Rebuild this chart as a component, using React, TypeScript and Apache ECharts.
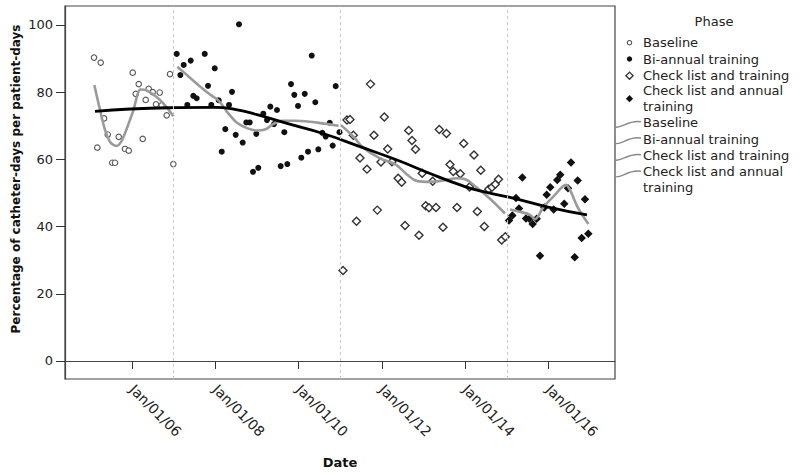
import React, { useEffect, useRef } from "react";
import * as echarts from "echarts";

// ---- tick labels / categories ----
const yearTicks = [2006, 2008, 2010, 2012, 2014, 2016];
const valueTicks = [0, 20, 40, 60, 80, 100];
const phaseBoundaries = [2007, 2011, 2015];
const phaseNames = ["Baseline", "Bi-annual training", "Check list and training", "Check list and annual training"];
const legendTitle = "Phase";
const xTitle = "Date";
const yTitle = "Percentage of catheter-days per patient-days";

// ---- observations (decimal year, percentage) ----
const baselineDates = [2005.088, 2005.167, 2005.248, 2005.328, 2005.417, 2005.527, 2005.592, 2005.681, 2005.832, 2005.921, 2006.017, 2006.089, 2006.161, 2006.257, 2006.329, 2006.401, 2006.497, 2006.576, 2006.665, 2006.713, 2006.833, 2006.912, 2006.992];
const baselineValues = [90.3, 63.5, 88.8, 72.2, 67.4, 59.0, 59.0, 66.7, 63.1, 62.6, 85.8, 79.5, 82.4, 66.1, 77.7, 81.0, 80.0, 76.4, 79.9, 76.1, 73.1, 85.4, 58.6];

const biannualDates = [2007.073, 2007.160, 2007.241, 2007.328, 2007.409, 2007.472, 2007.553, 2007.746, 2007.825, 2007.904, 2007.986, 2008.082, 2008.154, 2008.240, 2008.329, 2008.401, 2008.490, 2008.569, 2008.658, 2008.744, 2008.826, 2008.905, 2008.984, 2009.032, 2009.152, 2009.241, 2009.321, 2009.409, 2009.481, 2009.570, 2009.657, 2009.729, 2009.818, 2009.897, 2009.986, 2010.065, 2010.147, 2010.226, 2010.315, 2010.401, 2010.473, 2010.569, 2010.651, 2010.747, 2010.819, 2010.891, 2010.982];
const biannualValues = [91.4, 85.1, 88.1, 76.2, 89.4, 78.9, 78.2, 91.4, 81.9, 76.2, 87.1, 77.6, 62.3, 69.0, 76.2, 80.1, 67.3, 100.2, 65.0, 71.0, 71.0, 56.3, 67.6, 57.5, 73.6, 71.7, 75.7, 70.5, 74.7, 58.0, 68.1, 58.6, 82.4, 79.2, 75.9, 60.5, 79.5, 62.3, 90.9, 77.0, 63.0, 67.9, 66.8, 70.9, 64.1, 81.8, 68.1];

const checklistDates = [2011.066, 2011.162, 2011.234, 2011.313, 2011.390, 2011.474, 2011.642, 2011.726, 2011.810, 2011.890, 2011.978, 2012.058, 2012.139, 2012.242, 2012.391, 2012.475, 2012.555, 2012.643, 2012.723, 2012.807, 2012.891, 2012.968, 2013.052, 2013.131, 2013.220, 2013.299, 2013.378, 2013.467, 2013.551, 2013.635, 2013.714, 2013.803, 2013.882, 2013.964, 2014.103, 2014.211, 2014.291, 2014.374, 2014.459, 2014.564, 2014.643, 2014.723, 2014.800, 2014.876, 2014.963];
const checklistValues = [26.9, 71.7, 71.9, 67.2, 41.6, 60.4, 57.1, 82.4, 67.2, 44.9, 59.2, 72.6, 63.1, 59.3, 54.4, 53.2, 40.3, 68.6, 65.6, 63.0, 37.4, 55.9, 46.2, 45.6, 53.5, 45.7, 68.9, 39.8, 67.7, 58.5, 56.4, 45.7, 55.7, 64.7, 51.8, 61.3, 44.5, 56.8, 40.0, 51.1, 51.7, 52.6, 54.1, 36.0, 37.0];

const annualDates = [2015.052, 2015.131, 2015.220, 2015.292, 2015.371, 2015.460, 2015.539, 2015.621, 2015.717, 2015.796, 2015.899, 2015.957, 2016.043, 2016.125, 2016.211, 2016.283, 2016.379, 2016.468, 2016.540, 2016.629, 2016.701, 2016.797, 2016.876, 2016.956];
const annualValues = [41.8, 43.3, 48.5, 45.4, 54.6, 42.4, 42.3, 40.8, 42.3, 31.3, 45.7, 49.5, 51.7, 45.1, 53.9, 55.4, 46.8, 51.4, 59.1, 30.9, 53.7, 36.6, 48.1, 37.9];

// ---- fitted (loess) curves ----
const overallFitDates = [2005.112, 2005.952, 2007.032, 2008.0, 2008.5, 2009.0, 2009.721, 2010.586, 2011.474, 2012.363, 2013.155, 2013.947, 2014.355, 2015.076, 2015.964, 2016.924];
const overallFitValues = [74.3, 75.0, 75.4, 75.5, 74.8, 73.3, 70.7, 67.7, 63.8, 59.8, 55.8, 52.1, 50.6, 48.7, 45.9, 43.5];

const baselineFitDates = [2005.095, 2005.232, 2005.352, 2005.484, 2005.633, 2005.736, 2005.832, 2006.031, 2006.204, 2006.336, 2006.576, 2006.816, 2006.992];
const baselineFitValues = [82.1, 74.7, 68.8, 65.0, 64.0, 65.2, 67.8, 74.5, 80.8, 80.6, 78.7, 75.8, 72.8];

const biannualFitDates = [2007.088, 2007.393, 2007.633, 2007.873, 2008.077, 2008.312, 2008.514, 2008.761, 2009.001, 2009.193, 2009.385, 2009.601, 2009.914, 2010.274, 2010.634, 2010.958];
const biannualFitValues = [87.6, 84.3, 81.7, 79.3, 77.5, 73.7, 71.0, 69.3, 68.6, 68.9, 70.5, 71.5, 71.5, 71.2, 70.6, 70.0];

const checklistFitDates = [2011.018, 2011.313, 2011.553, 2011.954, 2012.314, 2012.595, 2012.835, 2013.155, 2013.515, 2013.803, 2014.019, 2014.276, 2014.595, 2014.955];
const checklistFitValues = [70.2, 66.8, 63.5, 60.3, 58.6, 55.6, 53.6, 53.3, 53.8, 54.4, 54.0, 51.6, 48.3, 43.9];

const annualFitDates = [2015.076, 2015.316, 2015.556, 2015.676, 2015.875, 2016.115, 2016.420, 2016.516, 2016.716, 2016.956];
const annualFitValues = [45.1, 44.4, 43.5, 42.2, 45.7, 48.9, 52.4, 50.9, 45.4, 40.8];

const zip = (xs: number[], ys: number[]) => xs.map((x, i) => [x, ys[i]]);

const FONT = "DejaVu Sans";

function buildLegend() {
  const els: any[] = [];
  const mx = 629.5;
  const tx = 643;
  const fs = 13;
  els.push({
    type: "text", x: 714, y: 21,
    style: { text: legendTitle, font: `${fs}px '${FONT}'`, fill: "#222", align: "center", verticalAlign: "middle" },
  });
  const markerRows = [42.7, 59, 75.7, 98.7];
  const lineRows = [122.7, 139, 155.7, 179.5];
  const label = (name: string) => (name === phaseNames[3] ? "Check list and annual\ntraining" : name);
  phaseNames.forEach((name, i) => {
    const y = markerRows[i];
    if (i === 0) {
      els.push({ type: "circle", shape: { cx: mx, cy: y, r: 2.2 }, style: { fill: "#fff", stroke: "#555", lineWidth: 1.1 } });
    } else if (i === 1) {
      els.push({ type: "circle", shape: { cx: mx, cy: y, r: 2.7 }, style: { fill: "#111" } });
    } else {
      const d = 3.6;
      els.push({
        type: "polygon",
        shape: { points: [[mx, y - d], [mx + d, y], [mx, y + d], [mx - d, y]] },
        style: i === 2 ? { fill: "#fff", stroke: "#333", lineWidth: 1.3 } : { fill: "#111" },
      });
    }
    els.push({
      type: "text", x: tx, y,
      style: { text: label(name), font: `${fs}px '${FONT}'`, fill: "#222", align: "left", verticalAlign: "middle", lineHeight: 16 },
    });
  });
  phaseNames.forEach((name, i) => {
    const y = lineRows[i];
    const y0 = i === 3 ? 172.3 : y;
    els.push({
      type: "bezierCurve",
      shape: { x1: 615, y1: y0 + 4.5, cpx1: 622, cpy1: y0 + 6, cpx2: 628, cpy2: y0 - 3, x2: 641, y2: y0 - 1 },
      style: { stroke: "#888", lineWidth: 1.4, fill: "none" },
    });
    els.push({
      type: "text", x: tx, y,
      style: { text: label(name), font: `${fs}px '${FONT}'`, fill: "#222", align: "left", verticalAlign: "middle", lineHeight: 16 },
    });
  });
  els.push({
    type: "text", x: 16, y: 179, rotation: Math.PI / 2,
    style: { text: yTitle, font: `bold 12px '${FONT}'`, fill: "#111", align: "center", verticalAlign: "middle" },
  });
  return els;
}

export default function App() {
  const ref = useRef<HTMLDivElement>(null);
  useEffect(() => {
    if (!ref.current) return;
    const chart = echarts.init(ref.current, null, { renderer: "svg" });
    const grayLine = { color: "#9a9a9a", width: 2.6 };
    const fitSeries = (name: string, xs: number[], ys: number[], smooth: number) => ({
      name, type: "line", data: zip(xs, ys), showSymbol: false, smooth,
      lineStyle: grayLine, z: 3, silent: true,
    });
    const option: any = {
      animation: false,
      backgroundColor: "#fff",
      textStyle: { fontFamily: FONT },
      grid: { left: 65, top: 6, right: 185, bottom: 95, show: true, borderColor: "#444", borderWidth: 1.2 },
      xAxis: {
        type: "value", min: 2004.391, max: 2017.597,
        name: xTitle, nameLocation: "middle", nameGap: 77,
        nameTextStyle: { fontWeight: "bold", fontSize: 13, color: "#111", fontFamily: FONT },
        axisLine: { show: true, lineStyle: { color: "#444", width: 1.2 } },
        axisTick: { show: true, customValues: yearTicks, length: 8, lineStyle: { color: "#333" } },
        axisLabel: {
          customValues: yearTicks, rotate: -45, margin: 8, fontSize: 14, color: "#222", fontFamily: FONT,
          formatter: (v: number) => `Jan/01/${String(Math.round(v) % 100).padStart(2, "0")}`,
        },
        splitLine: { show: false },
      },
      yAxis: {
        type: "value", min: -5.36, max: 105.65,
        axisLine: { show: true, lineStyle: { color: "#444", width: 1.2 } },
        axisTick: { show: true, customValues: valueTicks, length: 9, lineStyle: { color: "#333" } },
        axisLabel: { customValues: valueTicks, margin: 12, fontSize: 13, color: "#222", fontFamily: FONT },
        splitLine: { show: false },
      },
      series: [
        {
          name: phaseNames[0], type: "scatter", data: zip(baselineDates, baselineValues),
          symbol: "circle", symbolSize: 5.5,
          itemStyle: { color: "#fff", borderColor: "#555", borderWidth: 1.1, opacity: 1 }, z: 2,
          markLine: {
            silent: true, symbol: ["none", "none"], label: { show: false },
            lineStyle: { type: [3, 3], color: "#c8c8c8", width: 1 },
            data: phaseBoundaries.map((b) => ({ xAxis: b })),
          },
        },
        {
          name: phaseNames[1], type: "scatter", data: zip(biannualDates, biannualValues),
          symbol: "circle", symbolSize: 6, itemStyle: { color: "#111", opacity: 1 }, z: 2,
        },
        {
          name: phaseNames[2], type: "scatter", data: zip(checklistDates, checklistValues),
          symbol: "diamond", symbolSize: 8,
          itemStyle: { color: "#fff", borderColor: "#333", borderWidth: 1.4, opacity: 1 }, z: 2,
        },
        {
          name: phaseNames[3], type: "scatter", data: zip(annualDates, annualValues),
          symbol: "diamond", symbolSize: 8.5, itemStyle: { color: "#111", opacity: 1 }, z: 2,
        },
        fitSeries(phaseNames[0] + " fit", baselineFitDates, baselineFitValues, 0.3),
        fitSeries(phaseNames[1] + " fit", biannualFitDates, biannualFitValues, 0.4),
        fitSeries(phaseNames[2] + " fit", checklistFitDates, checklistFitValues, 0.4),
        fitSeries(phaseNames[3] + " fit", annualFitDates, annualFitValues, 0.3),
        {
          name: "Overall fit", type: "line", data: zip(overallFitDates, overallFitValues),
          showSymbol: false, smooth: 0.5, silent: true, z: 4,
          lineStyle: { color: "#000", width: 2.8 },
        },
      ],
      graphic: buildLegend(),
    };
    chart.setOption(option);
    return () => chart.dispose();
  }, []);
  return <div ref={ref} style={{ position: "fixed", left: 0, top: 0, width: 800, height: 474 }} />;
}
